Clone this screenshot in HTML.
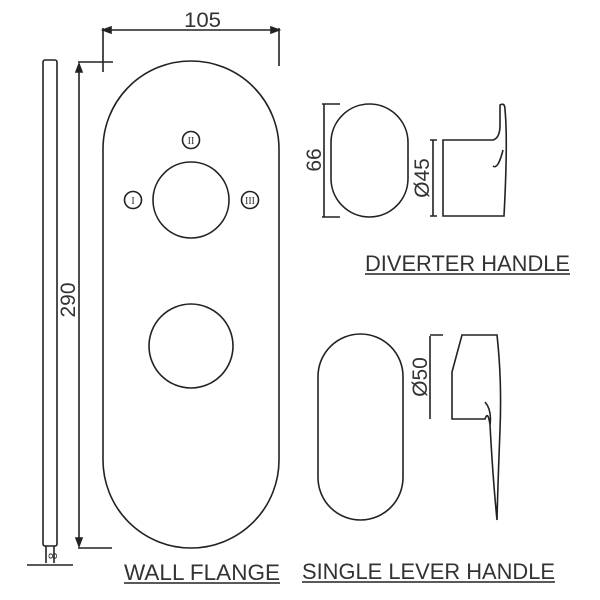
<!DOCTYPE html>
<html><head><style>body{margin:0;background:#fff}svg{display:block}text{font-family:"Liberation Sans",sans-serif;fill:#333}</style></head>
<body><svg width="600" height="600" viewBox="0 0 600 600" fill="none" stroke="#222" stroke-width="1.6">
<path d="M103 149 A88 88 0 0 1 279 149 L279 460 A88 88 0 0 1 103 460 Z"/>
<circle cx="191" cy="200" r="38"/><circle cx="191" cy="346" r="42"/>
<circle cx="191" cy="140" r="8.5"/><circle cx="133" cy="200" r="8.5"/><circle cx="250" cy="200" r="8.5"/>
<g stroke="none" fill="#333" font-size="10" text-anchor="middle">
<text x="191" y="144" style="font-family:'Liberation Serif'">II</text><text x="133" y="204" style="font-family:'Liberation Serif'">I</text><text x="250" y="204" style="font-family:'Liberation Serif'">III</text></g>
<rect x="43" y="60" width="14" height="486" rx="2"/>
<path d="M46 546 L46 563 M54 546 L54 563 M27 565 L73 565"/>
<path d="M79 64 L79 546 M78 62 L113 62 M78 548 L112 548 M103 28 L103 72 M279 28 L279 66 M103 30 L279 30"/>
<path d="M79 64 l-3 8 h6z M79 546 l-3 -8 h6z M103 30 l8 -3 v6z M279 30 l-8 -3 v6z" fill="#222"/>
<text x="184" y="27" font-size="21" textLength="37" lengthAdjust="spacingAndGlyphs" stroke="none">105</text>
<text transform="translate(75 300) rotate(-90)" font-size="21" text-anchor="middle" stroke="none">290</text>
<text transform="translate(57 556) rotate(-90)" font-size="12" text-anchor="middle" stroke="none">8</text>
<rect x="331" y="104" width="77" height="113" rx="38.5"/>
<path d="M324 104 V217 M322 104 H340 M322 217 H340"/>
<text transform="translate(321 160) rotate(-90)" font-size="21" text-anchor="middle" stroke="none">66</text>
<path d="M443 216 V140 H493 Q500 138 500 125 L500 105 Q505 102 505 110 Q508 140 504 216 Z M503 150 Q498 170 493 166"/>
<path d="M433 140 V216 M430 140 H437 M430 216 H437"/>
<text transform="translate(429 178) rotate(-90)" font-size="21" text-anchor="middle" stroke="none">Ø45</text>
<text x="365" y="271" font-size="22" textLength="205" lengthAdjust="spacingAndGlyphs" stroke="none">DIVERTER HANDLE</text>
<path d="M365 274 H570" stroke-width="1.4"/>
<rect x="318" y="334" width="85" height="186" rx="42.5"/>
<path d="M430 336 V419 M430 335 H443"/>
<path d="M462 335 H497 Q502 380 500 430 Q498 480 497 520 Q493 480 490 425 Q488 410 485 419 H452 V372 Z M485 402 Q492 410 490 425"/>
<text transform="translate(427 377) rotate(-90)" font-size="21" text-anchor="middle" stroke="none">Ø50</text>
<text x="302" y="579" font-size="22" textLength="253" lengthAdjust="spacingAndGlyphs" stroke="none">SINGLE LEVER HANDLE</text>
<path d="M302 582 H555" stroke-width="1.4"/>
<text x="124" y="580" font-size="22" textLength="156" lengthAdjust="spacingAndGlyphs" stroke="none">WALL FLANGE</text>
<path d="M124 583 H280" stroke-width="1.4"/>
</svg></body></html>
